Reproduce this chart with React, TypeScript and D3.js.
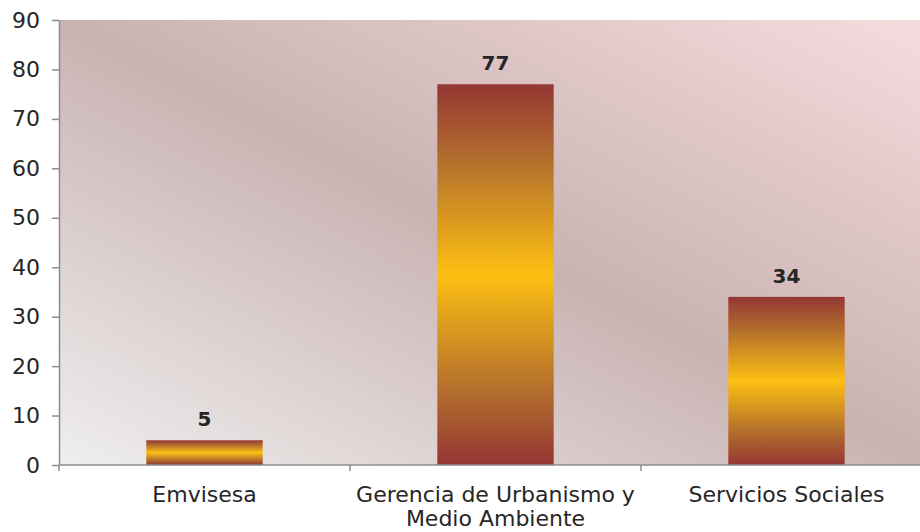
import React, { useEffect, useRef } from "react";
import * as d3 from "d3";

const categories = ["Emvisesa", "Gerencia de Urbanismo y Medio Ambiente", "Servicios Sociales"];
const labelLines = [["Emvisesa"], ["Gerencia de Urbanismo y", "Medio Ambiente"], ["Servicios Sociales"]];
const values = [5, 77, 34];
const yTicks = [0, 10, 20, 30, 40, 50, 60, 70, 80, 90];

const width = 920;
const height = 532;
const left = 59;
const top = 20;
const bottom = 465;
const right = 932;
const font = "'DejaVu Sans', Verdana, sans-serif";
const textColor = "#262626";
const axisColor = "#8c8c8c";

export default function App() {
  const svgRef = useRef<SVGSVGElement>(null);

  useEffect(() => {
    const svg = d3.select(svgRef.current);
    svg.selectAll("*").remove();

    const defs = svg.append("defs");
    const bg = defs
      .append("linearGradient")
      .attr("id", "bg")
      .attr("x1", 0)
      .attr("y1", 1)
      .attr("x2", 1)
      .attr("y2", 0);
    bg.append("stop").attr("offset", "0%").attr("stop-color", "#efeeee");
    bg.append("stop").attr("offset", "50%").attr("stop-color", "#c9b3b2");
    bg.append("stop").attr("offset", "100%").attr("stop-color", "#f6dcde");

    const bar = defs
      .append("linearGradient")
      .attr("id", "bar")
      .attr("x1", 0)
      .attr("y1", 0)
      .attr("x2", 0)
      .attr("y2", 1);
    [
      [0, "#943634"],
      [0.2, "#b46f2d"],
      [0.5, "#fcc012"],
      [0.8, "#b46f2d"],
      [1, "#943634"],
    ].forEach(([o, c]) => bar.append("stop").attr("offset", o as number).attr("stop-color", c as string));

    const x = d3.scaleBand().domain(categories).range([left, right]).padding(0);
    const y = d3.scaleLinear().domain([0, 90]).range([bottom, top]);

    // plot background
    svg
      .append("rect")
      .attr("x", left)
      .attr("y", top)
      .attr("width", right - left)
      .attr("height", bottom - top)
      .attr("fill", "url(#bg)");

    const barW = x.bandwidth() * 0.4;
    svg
      .selectAll("rect.bar")
      .data(values)
      .enter()
      .append("rect")
      .attr("class", "bar")
      .attr("x", (d, i) => x(categories[i])! + (x.bandwidth() - barW) / 2)
      .attr("y", (d) => y(d))
      .attr("width", barW)
      .attr("height", (d) => y(0) - y(d))
      .attr("fill", "url(#bar)");

    // value labels
    svg
      .selectAll("text.val")
      .data(values)
      .enter()
      .append("text")
      .attr("class", "val")
      .attr("x", (d, i) => x(categories[i])! + x.bandwidth() / 2)
      .attr("y", (d) => y(d) - 14)
      .attr("text-anchor", "middle")
      .attr("font-family", font)
      .attr("font-weight", "bold")
      .attr("font-size", 20)
      .attr("fill", textColor)
      .text((d) => d);

    // y axis
    const yAxis = svg
      .append("g")
      .attr("transform", `translate(${left},0)`)
      .call(d3.axisLeft(y).tickValues(yTicks).tickSizeInner(7).tickSizeOuter(0).tickPadding(12));
    yAxis.select(".domain").attr("stroke", axisColor).attr("stroke-width", 1.5);
    yAxis.selectAll(".tick line").attr("stroke", axisColor).attr("stroke-width", 1.5);
    yAxis
      .selectAll(".tick text")
      .attr("font-family", font)
      .attr("font-size", 22)
      .attr("fill", textColor);

    // x axis with ticks at band edges
    const xg = svg.append("g");
    xg.append("line")
      .attr("x1", left)
      .attr("x2", right)
      .attr("y1", bottom)
      .attr("y2", bottom)
      .attr("stroke", axisColor)
      .attr("stroke-width", 1.5);
    const edges = categories.map((c) => x(c)!).concat([right]);
    xg.selectAll("line.tk")
      .data(edges)
      .enter()
      .append("line")
      .attr("class", "tk")
      .attr("x1", (d) => d)
      .attr("x2", (d) => d)
      .attr("y1", bottom)
      .attr("y2", bottom + 6)
      .attr("stroke", axisColor)
      .attr("stroke-width", 1.5);

    const lbl = xg
      .selectAll("text.cat")
      .data(labelLines)
      .enter()
      .append("text")
      .attr("class", "cat")
      .attr("x", (d, i) => x(categories[i])! + x.bandwidth() / 2)
      .attr("y", bottom + 37)
      .attr("text-anchor", "middle")
      .attr("font-family", font)
      .attr("font-size", 22)
      .attr("fill", textColor);
    lbl
      .selectAll("tspan")
      .data((d) => d)
      .enter()
      .append("tspan")
      .attr("x", function () {
        return (this as any).parentNode.getAttribute("x");
      })
      .attr("dy", (d, i) => (i === 0 ? 0 : 24))
      .text((d) => d);
  }, []);

  return (
    <div style={{ position: "absolute", left: 0, top: 0 }}>
      <svg ref={svgRef} width={width} height={height} style={{ display: "block", background: "#fff" }}></svg>
    </div>
  );
}
